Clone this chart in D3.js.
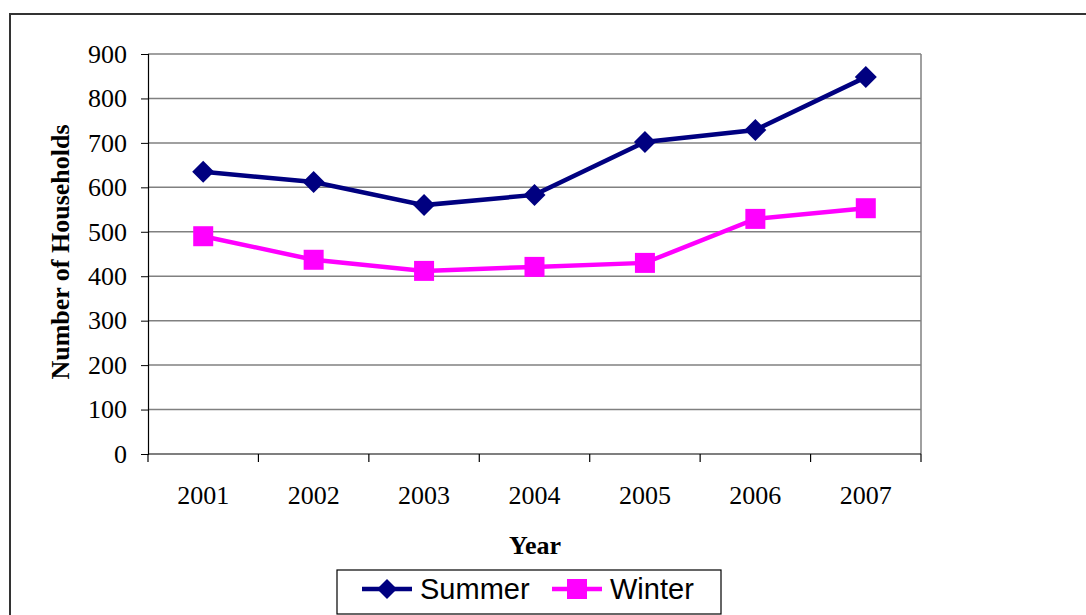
<!DOCTYPE html>
<html><head><meta charset="utf-8">
<script src="https://cdn.jsdelivr.net/npm/d3@7"></script>
<style>body{margin:0;background:#fff}svg{display:block}</style>
</head><body>
<svg id="c" width="1086" height="615"></svg>
<script>
const years = ["2001","2002","2003","2004","2005","2006","2007"];
const summer = [635, 612, 560, 583, 702, 729, 848];
const winter = [490, 437, 412, 421, 430, 529, 553];
const yTicks = [0,100,200,300,400,500,600,700,800,900];

const svg = d3.select("#c");
const L = 148, R = 921, T = 54, B = 454;
const serif = "'Liberation Serif','Times New Roman',serif";
const sans = "'Liberation Sans',Arial,sans-serif";

// outer frame
svg.append("rect").attr("x",10).attr("y",14).attr("width",1090).attr("height",620)
  .attr("fill","none").attr("stroke","#333").attr("stroke-width",2);

const x = d3.scaleBand().domain(years).range([L,R]);
const y = d3.scaleLinear().domain([0,900]).range([B,T]);

// gridlines
svg.append("g").selectAll("line").data(yTicks.filter(d=>d>0)).join("line")
  .attr("x1",L).attr("x2",R).attr("y1",d=>y(d)).attr("y2",d=>y(d))
  .attr("stroke","#808080").attr("stroke-width",1.5);
// right border
svg.append("line").attr("x1",R).attr("x2",R).attr("y1",T).attr("y2",B)
  .attr("stroke","#808080").attr("stroke-width",1.5);

// y axis
const yAxis = svg.append("g").attr("transform",`translate(${L},0)`)
  .call(d3.axisLeft(y).tickValues(yTicks).tickSize(7).tickPadding(14));
yAxis.select(".domain").attr("stroke","#000").attr("stroke-width",1.2);
yAxis.selectAll(".tick line").attr("stroke","#000");
yAxis.selectAll("text").style("font-family",serif).style("font-size","26px").attr("fill","#000");

// x axis
const xAxis = svg.append("g").attr("transform",`translate(0,${B})`)
  .call(d3.axisBottom(x).tickSize(0).tickPadding(0));
xAxis.select(".domain").attr("stroke","#000").attr("stroke-width",1.2).attr("d",`M${L},0H${R}`);
xAxis.selectAll("text").attr("y",50).attr("dy",null)
  .style("font-family",serif).style("font-size","26px").attr("fill","#000");
// boundary ticks
const bounds = years.map(d=>x(d)).concat([x(years[years.length-1])+x.bandwidth()]);
svg.append("g").selectAll("line").data(bounds).join("line")
  .attr("x1",d=>d).attr("x2",d=>d).attr("y1",B).attr("y2",B+8)
  .attr("stroke","#000").attr("stroke-width",1.2);

// titles
svg.append("text").attr("x",535).attr("y",554).attr("text-anchor","middle")
  .style("font-family",serif).attr("font-weight","bold").style("font-size","26px").text("Year");
svg.append("text").attr("transform","translate(69,252) rotate(-90)").attr("text-anchor","middle")
  .style("font-family",serif).attr("font-weight","bold").style("font-size","26px").text("Number of Households");

const cx = d => x(d)+x.bandwidth()/2;
const line = d3.line().x((d,i)=>cx(years[i])).y(d=>y(d));

function series(vals,color,shape){
  svg.append("path").datum(vals).attr("d",line).attr("fill","none")
    .attr("stroke",color).attr("stroke-width",4.5);
  const g = svg.append("g");
  if(shape==="diamond"){
    g.selectAll("path").data(vals).join("path")
      .attr("d",(d,i)=>{const px=cx(years[i]),py=y(d),s=11;return `M${px},${py-s}L${px+s},${py}L${px},${py+s}L${px-s},${py}Z`;})
      .attr("fill",color);
  } else {
    g.selectAll("rect").data(vals).join("rect")
      .attr("x",(d,i)=>cx(years[i])-10).attr("y",d=>y(d)-10).attr("width",20).attr("height",20)
      .attr("fill",color);
  }
}
series(summer,"#000080","diamond");
series(winter,"#FF00FF","square");

// legend
const lg = svg.append("g");
lg.append("rect").attr("x",337).attr("y",570).attr("width",384).attr("height",44)
  .attr("fill","#fff").attr("stroke","#000").attr("stroke-width",1.2);
const items = [{n:"Summer",c:"#000080",s:"diamond",x:362},{n:"Winter",c:"#FF00FF",s:"square",x:552}];
items.forEach(it=>{
  const yy = 589;
  lg.append("line").attr("x1",it.x).attr("x2",it.x+50).attr("y1",yy).attr("y2",yy)
    .attr("stroke",it.c).attr("stroke-width",4.5);
  const mx = it.x+25;
  if(it.s==="diamond"){
    lg.append("path").attr("d",`M${mx},${yy-10}L${mx+10},${yy}L${mx},${yy+10}L${mx-10},${yy}Z`).attr("fill",it.c);
  } else {
    lg.append("rect").attr("x",mx-10).attr("y",yy-10).attr("width",20).attr("height",20).attr("fill",it.c);
  }
  lg.append("text").attr("x",it.x+58).attr("y",yy+10).style("font-family",sans).style("font-size","29px")
    .attr("fill","#000").text(it.n);
});
</script>
</body></html>
